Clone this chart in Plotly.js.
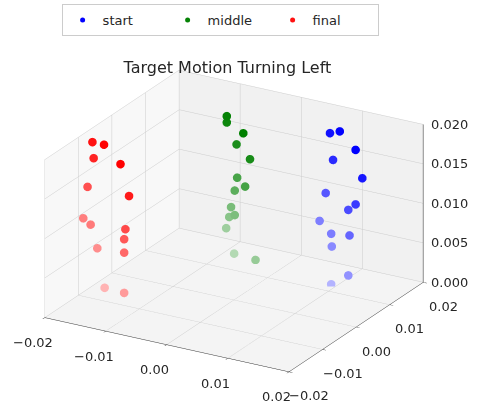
<!DOCTYPE html>
<html>
<head>
<meta charset="utf-8">
<script src="https://cdn.plot.ly/plotly-3.0.1.min.js"></script>
<style>html,body{margin:0;padding:0;background:#fff;}#chart{width:487px;height:409px;}</style>
</head>
<body>
<div id="chart"></div>
<script>
// ---- data ----
const seriesNames = ["start", "middle", "final"];
const seriesColors = ["#0000ff", "#008000", "#ff0000"];

const startX = [0.0107, 0.0091, 0.0133, 0.0096, 0.0144, 0.0084, 0.0133, 0.0121, 0.0074, 0.0093, 0.0123, 0.0094, 0.0121, 0.0093];
const startY = [0.012, 0.012, 0.012, 0.012, 0.012, 0.012, 0.012, 0.012, 0.012, 0.012, 0.012, 0.012, 0.012, 0.012];
const startZ = [0.0198, 0.0193, 0.0179, 0.0160, 0.0145, 0.0116, 0.0110, 0.0101, 0.0079, 0.0066, 0.0069, 0.0050, 0.0018, 0.0002];

const middleX = [-0.0089, -0.0089, -0.0062, -0.0073, -0.0051, -0.0072, -0.0059, -0.0076, -0.0082, -0.0076, -0.0085, -0.0090, -0.0077, -0.0042];
const middleY = [0.014, 0.014, 0.014, 0.014, 0.014, 0.014, 0.014, 0.014, 0.014, 0.014, 0.014, 0.014, 0.014, 0.014];
const middleZ = [0.0178, 0.0170, 0.0161, 0.0145, 0.0130, 0.0103, 0.0094, 0.0086, 0.0064, 0.0055, 0.0051, 0.0036, 0.0006, 0.0004];

const finalX = [-0.0177, -0.0158, -0.0175, -0.0131, -0.0185, -0.0117, -0.0192, -0.0180, -0.0123, -0.0125, -0.0169, -0.0125, -0.0157, -0.0125];
const finalY = [-0.010, -0.010, -0.010, -0.010, -0.010, -0.010, -0.010, -0.010, -0.010, -0.010, -0.010, -0.010, -0.010, -0.010];
const finalZ = [0.0198, 0.0198, 0.0178, 0.0178, 0.0140, 0.0140, 0.0099, 0.0093, 0.0097, 0.0084, 0.0065, 0.0067, 0.0017, 0.0016];

const xyRange = [-0.02, 0.02];
const zRange = [0.0, 0.02];
const xyTicks = [-0.02, -0.01, 0.0, 0.01, 0.02];
const xyTickText = ["\u22120.02", "\u22120.01", "0.00", "0.01", "0.02"];
const zTicks = [0.0, 0.005, 0.01, 0.015, 0.02];
const zTickText = ["0.000", "0.005", "0.010", "0.015", "0.020"];

// ---- style helpers (emulate matplotlib depth shading) ----
const elev = 22.6 * Math.PI / 180, azim = -60 * Math.PI / 180;
function hexToRgb(h) { return [parseInt(h.substr(1,2),16), parseInt(h.substr(3,2),16), parseInt(h.substr(5,2),16)]; }
function shade(xs, ys, zs, base) {
  const vx = Math.cos(elev) * Math.cos(azim), vy = Math.cos(elev) * Math.sin(azim), vz = Math.sin(elev);
  const d = xs.map((x, i) => -(vx * x / 0.04 * 4 + vy * ys[i] / 0.04 * 4 + vz * zs[i] / 0.02 * 3));
  const mn = Math.min(...d), mx = Math.max(...d);
  const rgb = hexToRgb(base);
  return d.map(v => {
    const a = 1 - 0.7 * (mx > mn ? (v - mn) / (mx - mn) : 0);
    const c = rgb.map(k => Math.round(k * a + 255 * (1 - a)));
    return `rgb(${c[0]},${c[1]},${c[2]})`;
  });
}

const sets = [[startX, startY, startZ], [middleX, middleY, middleZ], [finalX, finalY, finalZ]];
const traces = sets.map((s, i) => ({
  type: "scatter3d", mode: "markers", name: seriesNames[i],
  x: s[0], y: s[1], z: s[2],
  marker: { size: 5, color: shade(s[0], s[1], s[2], seriesColors[i]), line: { width: 0 } },
  hoverinfo: "skip"
}));
// z axis spine on the right-hand back edge (as matplotlib draws it)
traces.push({
  type: "scatter3d", mode: "lines", showlegend: false, hoverinfo: "skip",
  x: [xyRange[1], xyRange[1]], y: [xyRange[1], xyRange[1]], z: zRange,
  line: { color: "#333333", width: 1.5 }
});

const tickFont = { family: "DejaVu Sans", size: 13, color: "#262626" };
const annotations = [];
xyTicks.forEach((v, i) => annotations.push({ x: v, y: xyRange[0], z: zRange[0], text: xyTickText[i], showarrow: false,
  xanchor: "center", yanchor: "middle", xshift: -12, yshift: -25, font: tickFont }));
xyTicks.forEach((v, i) => annotations.push({ x: xyRange[1], y: v, z: zRange[0], text: xyTickText[i], showarrow: false,
  xanchor: "center", yanchor: "middle", xshift: 20, yshift: -24, font: tickFont }));
zTicks.forEach((v, i) => annotations.push({ x: xyRange[1], y: xyRange[1], z: v, text: zTickText[i], showarrow: false,
  xanchor: "left", yanchor: "middle", xshift: 6, yshift: 0, font: tickFont }));

const axisBase = {
  showbackground: true, gridcolor: "#cccccc", gridwidth: 1,
  showline: true, linecolor: "#333333", linewidth: 1,
  ticks: "outside", ticklen: 4, tickcolor: "#333333", showticklabels: false,
  zeroline: false, showspikes: false, title: { text: "" }
};
const r = 1.8;
const layout = {
  width: 487, height: 409,
  margin: { l: 0, r: 0, t: 0, b: 0 },
  paper_bgcolor: "#ffffff",
  font: { family: "DejaVu Sans", color: "#262626" },
  title: { text: "Target Motion Turning Left", x: 0.467, xanchor: "center", y: 0.836, yanchor: "middle",
           font: { family: "DejaVu Sans", size: 16, color: "#262626" } },
  showlegend: true,
  legend: { orientation: "h", x: 0.452, xanchor: "center", y: 0.951, yanchor: "middle", entrywidth: 60,
            bordercolor: "#cccccc", borderwidth: 1, font: { family: "DejaVu Sans", size: 13, color: "#262626" } },
  scene: {
    domain: { x: [0, 0.961], y: [0, 0.9194] },
    aspectmode: "manual", aspectratio: { x: 1.50, y: 1.43, z: 0.91 },
    camera: {
      projection: { type: "orthographic" },
      up: { x: 0, y: 0, z: 1 }, center: { x: 0, y: 0, z: 0 },
      eye: { x: r * Math.cos(elev) * Math.cos(azim), y: r * Math.cos(elev) * Math.sin(azim), z: r * Math.sin(elev) }
    },
    xaxis: Object.assign({}, axisBase, { range: xyRange, tickvals: xyTicks, backgroundcolor: "#f8f8f8" }),
    yaxis: Object.assign({}, axisBase, { range: xyRange, tickvals: xyTicks, backgroundcolor: "#f1f1f1" }),
    zaxis: Object.assign({}, axisBase, { range: zRange, tickvals: zTicks, backgroundcolor: "#f4f4f4", showline: false, ticks: "" }),
    annotations: annotations
  }
};
Plotly.newPlot("chart", traces, layout, { displayModeBar: false });
</script>
</body>
</html>
